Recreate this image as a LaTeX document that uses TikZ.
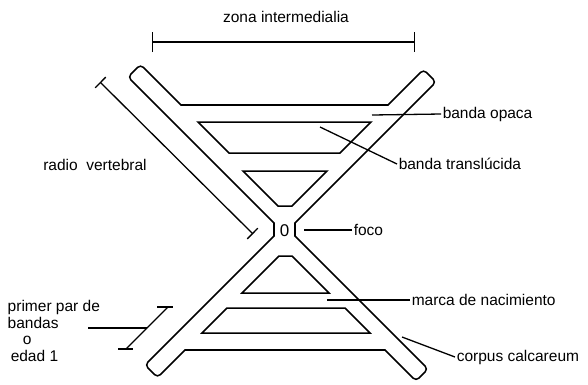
\documentclass[tikz,border=0pt]{standalone}
\usepackage{fontspec}
\setmainfont{Liberation Sans}
\usetikzlibrary{arrows.meta,positioning}

\begin{document}
\begin{tikzpicture}[x=1pt,y=-1pt,line width=1.5pt,line cap=round,
  txt/.style={font=\fontsize{15.5}{16.5}\selectfont,inner sep=1pt},
  leader/.style={line width=1.3pt,line cap=butt},
  armend/.style={rounded corners=4pt},
  dimline/.style={line width=1.3pt,line cap=butt,{Bar[width=20pt]}-{Bar[width=20pt]}}]
	\useasboundingbox (0,0) rectangle (588,384);
	%椎体轮廓
	\coordinate (UL) at (181,105);
	\coordinate (UR) at (388,105);
	\coordinate (NUL) at (274,223);
	\coordinate (NUR) at (295,223);
	\coordinate (NLL) at (274,236);
	\coordinate (NLR) at (295,236);
	\coordinate (LL) at (185,350);
	\coordinate (LR) at (385,350);
	\draw [armend] (UL) -- (140.5,64.5) -- (128,77) -- (NUL);
	\draw [armend] (UR) -- (423.5,69.5) -- (436,82) -- (NUR);
	\draw [armend] (LR) -- (416,381) -- (428,369) -- (NLR);
	\draw [armend] (LL) -- (157.5,377.5) -- (145,365) -- (NLL);
	\draw (UL) -- (UR) (LL) -- (LR) (NUL) -- (NLL) (NUR) -- (NLR);
	\draw (198,122) -- (371,122) -- (340,153) -- (229,153) -- cycle;
	\draw (243,171) -- (327,171) -- (292,206) -- (278,206) -- cycle;
	\draw (279,256) -- (292,256) -- (329,293) -- (242,293) -- cycle;
	\draw (227,308) -- (345,308) -- (370,333) -- (202,333) -- cycle;
	\node [txt, font=\fontsize{17}{17}\selectfont] (CERO) at (284.5,231) {0};

	%标注
	\coordinate (ZA) at (152,42);
	\coordinate (ZB) at (415,42);
	\node [txt] (ZONA) at (286,17) {zona intermedialia};
	\draw [dimline] (ZA) -- (ZB);

	\coordinate (RA) at (100,82);
	\coordinate (RB) at (253,234);
	\node [txt] (RADIO) at (95,165) {radio\ \ vertebral};
	\draw [dimline, {Bar[width=15pt]}-{Bar[width=15pt]}] (RA) -- (RB);

	\coordinate (o1) at (372,115);
	\node [txt, anchor=west] (OPACA) at (441,114) {banda opaca};
	\coordinate (t1) at (320,127);
	\node [txt, anchor=west] (TRANS) at (397,164) {banda translúcida};
	\coordinate (f1) at (304,230);
	\node [txt, anchor=west] (FOCO) at (352,230) {foco};
	\coordinate (m1) at (327,300);
	\node [txt, anchor=west] (MARCA) at (410,300) {marca de nacimiento};
	\coordinate (c1) at (402,337);
	\node [txt, anchor=west] (CORPUS) at (455,357) {corpus calcareum};
	\path [leader]
		(o1) edge (OPACA.west)
		(t1) edge (TRANS.west)
		(f1) edge (FOCO.west)
		(m1) edge (MARCA.west)
		(c1) edge (CORPUS.west);

	\coordinate (PA) at (168,307);
	\coordinate (PB) at (126,349);
	\node [txt, anchor=north west, align=left] (PRIMER) at (6,299) {primer par de\\bandas\\\hspace{15pt}o\\\hspace{3pt}edad 1};
	\draw [leader] (PA) -- (PB);
	\draw [leader] ([xshift=-11pt]PA) -- ([xshift=5pt]PA);
	\draw [leader] ([xshift=-8pt]PB) -- ([xshift=7pt]PB);
	\draw [leader] (88,328) -- (147,328);
\end{tikzpicture}
\end{document}
